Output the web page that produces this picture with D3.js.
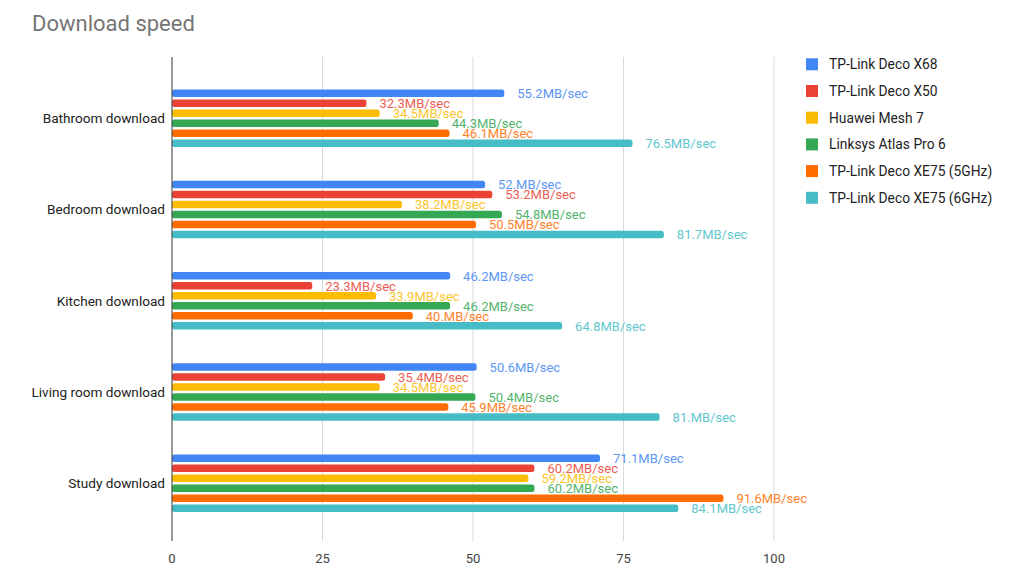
<!DOCTYPE html>
<html><head><meta charset="utf-8">
<script src="https://cdn.jsdelivr.net/npm/d3@7"></script>
<style>body{margin:0;background:#fff;}svg{display:block;font-family:Roboto,Arial,sans-serif;}</style>
</head><body>
<svg id="c" width="1024" height="577"></svg>
<script>
const categories = ["Bathroom download","Bedroom download","Kitchen download","Living room download","Study download"];
const seriesNames = ["TP-Link Deco X68","TP-Link Deco X50","Huawei Mesh 7","Linksys Atlas Pro 6","TP-Link Deco XE75 (5GHz)","TP-Link Deco XE75 (6GHz)"];
const seriesColors = ["#4285F4","#EA4335","#FBBC04","#34A853","#FF6D01","#46BDC6"];
const decoX68 = [55.2, 52, 46.2, 50.6, 71.1];
const decoX50 = [32.3, 53.2, 23.3, 35.4, 60.2];
const huaweiMesh7 = [34.5, 38.2, 33.9, 34.5, 59.2];
const linksysAtlasPro6 = [44.3, 54.8, 46.2, 50.4, 60.2];
const decoXE75_5 = [46.1, 50.5, 40, 45.9, 91.6];
const decoXE75_6 = [76.5, 81.7, 64.8, 81, 84.1];
const xTicks = [0, 25, 50, 75, 100];

const seriesValues = [decoX68, decoX50, huaweiMesh7, linksysAtlasPro6, decoXE75_5, decoXE75_6];
const fmt = v => (Number.isInteger(v) ? v + "." : String(v)) + "MB/sec";

const svg = d3.select("#c");
const x = d3.scaleLinear().domain([0, 100]).range([172, 774]);
const y = d3.scaleBand().domain(categories).range([72.5, 529]);
const inner = d3.scaleBand().domain(d3.range(seriesNames.length)).range([0, 60]).paddingInner(0.25).paddingOuter(0.125);
const plotTop = 57, plotBottom = 541;

// title
svg.append("text").attr("x", 32).attr("y", 31).attr("fill", "#757575")
  .attr("font-size", 22).text("Download speed");

// gridlines
svg.append("g").selectAll("line").data(xTicks.filter(t => t > 0)).join("line")
  .attr("x1", d => x(d)).attr("x2", d => x(d)).attr("y1", plotTop).attr("y2", plotBottom)
  .attr("stroke", "#d9d9d9").attr("stroke-width", 1);

// x tick labels
svg.append("g").selectAll("text").data(xTicks).join("text")
  .attr("x", d => x(d)).attr("y", 563).attr("text-anchor", "middle")
  .attr("fill", "#444").attr("font-size", 13).text(d => d);

// groups
const groups = svg.append("g").selectAll("g").data(categories).join("g")
  .attr("transform", c => `translate(0,${y(c) + y.bandwidth()/2 - 30})`);

seriesNames.forEach((s, si) => {
  groups.append("rect")
    .attr("x", x(0))
    .attr("y", inner(si))
    .attr("height", inner.bandwidth())
    .attr("width", (c, ci) => x(seriesValues[si][ci]) - x(0))
    .attr("rx", 2.5).attr("fill", seriesColors[si]);
});
seriesNames.forEach((s, si) => {
  groups.append("text")
    .attr("x", (c, ci) => x(seriesValues[si][ci]) + 13)
    .attr("y", inner(si) + inner.bandwidth()/2 + 4.8)
    .attr("fill", seriesColors[si]).attr("font-size", 13).attr("opacity", 0.85)
    .text((c, ci) => fmt(seriesValues[si][ci]));
});

// category labels
svg.append("g").selectAll("text").data(categories).join("text")
  .attr("x", 165).attr("y", c => y(c) + y.bandwidth()/2 + 5).attr("text-anchor", "end")
  .attr("fill", "#222").attr("font-size", 13.6).text(c => c);

// zero axis
svg.append("line").attr("x1", x(0)).attr("x2", x(0)).attr("y1", plotTop).attr("y2", plotBottom)
  .attr("stroke", "#333").attr("stroke-width", 1);

// legend
const legend = svg.append("g").selectAll("g").data(seriesNames).join("g")
  .attr("transform", (d, i) => `translate(806,${64.3 + i*26.7})`);
legend.append("rect").attr("x", 0).attr("y", -6).attr("width", 12).attr("height", 12).attr("fill", (d, i) => seriesColors[i]);
legend.append("text").attr("x", 23).attr("y", 5).attr("fill", "#222").attr("font-size", 13.8).text(d => d);
</script>
</body></html>
